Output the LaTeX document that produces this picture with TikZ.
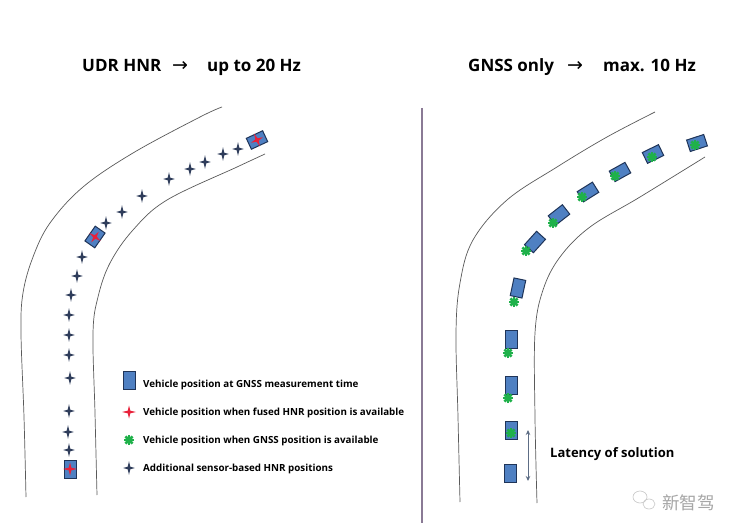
\documentclass[tikz,border=0pt]{standalone}
\usepackage{fontspec}
\setmainfont{Open Sans}
\newfontfamily\arrowfont{DejaVu Sans}
\newfontfamily\cjkfont{Noto Sans CJK SC}
\usetikzlibrary{arrows.meta}
\definecolor{navy}{HTML}{2E3C5A}
\definecolor{vblue}{HTML}{4F80C2}
\definecolor{vedge}{HTML}{1F3458}
\definecolor{fusedred}{HTML}{E8213A}
\definecolor{gnssgreen}{HTML}{1FB14A}
\definecolor{roadgray}{HTML}{5A5A5A}
\definecolor{divider}{HTML}{8A7A95}
\definecolor{latarrow}{HTML}{5D6D85}
\tikzset{
  nstar/.pic={\fill[navy] (0,-6.8) -- (1.3,-1.3) -- (5.8,0) -- (1.3,1.3) -- (0,6.8) -- (-1.3,1.3) -- (-5.8,0) -- (-1.3,-1.3) -- cycle;},
  rstar/.pic={\fill[fusedred] (0,-6.5) -- (1.3,-1.3) -- (7,0) -- (1.3,1.3) -- (0,6.5) -- (-1.3,1.3) -- (-7,0) -- (-1.3,-1.3) -- cycle;},
  gstar/.pic={\foreach \a in {0,45,90,135} \draw[gnssgreen, line width=2.5pt] (\a:5) -- (\a+180:5);},
  veh/.pic={\filldraw[fill=vblue, draw=vedge, line width=1pt] (-6,-9) rectangle (6,9);},
  road/.style={draw=roadgray, line width=0.7pt},
  title/.style={font=\bfseries\fontsize{17}{20}\selectfont, inner sep=0pt, anchor=base west},
  tarrow/.style={font=\arrowfont\fontsize{19}{22}\selectfont, inner sep=0pt, anchor=base},
  legend/.style={font=\bfseries\fontsize{9.8}{12}\selectfont, inner sep=0pt, anchor=base west, text=black},
}
\begin{document}
\begin{tikzpicture}[x=1pt, y=-1pt]
\useasboundingbox (0,0) rectangle (740,532);
\fill[white] (0,0) rectangle (740,532);

% titles
\node[title] (t1) at (82,72) {UDR HNR};
\node[tarrow] (a1) at (180,72) {→};
\node[title] (t2) at (207,72) {up to 20 Hz};
\node[title] (t3) at (468,72) {GNSS only};
\node[tarrow] (a2) at (575,72) {→};
\node[title] (t4) at (603,72) {max. 10 Hz};

% divider
\coordinate (d1) at (422,108);
\coordinate (d2) at (422,523);
\draw[divider, line width=1.5pt] (d1) -- (d2);

% left road
\draw[road] plot[smooth, tension=0.6] coordinates {(26,497) (24,417) (21,333) (23,293) (33,257) (50,223) (83,187) (133,153) (200,117) (222,107)};
\draw[road] plot[smooth, tension=0.6] coordinates {(97,495) (95,413) (93,333) (98,297) (110,263) (133,230) (167,200) (237,167) (265,154)};

% right road
\draw[road] plot[smooth, tension=0.6] coordinates {(460,502) (458,417) (456,333) (460,283) (473,240) (507,200) (557,167) (607,137) (655,112)};
\draw[road] plot[smooth, tension=0.6] coordinates {(537,503) (535,417) (535,333) (543,290) (560,257) (590,227) (640,197) (705,157)};

% left markers
\foreach \p in {(69,450),(68,432),(69,411),(70,378),(69,355),(69,335),(69,315),(71,295),(77,276),(82,257),(106,223),(122,212),(142,196),(169,179),(190,169),(205,162),(223,154),(238,149)}
  \pic at \p {nstar};
\pic at (70,469) {veh};
\pic at (70,469) {rstar};
\pic[rotate=-35] at (95,237) {veh};
\pic[rotate=-35] at (95,237) {rstar};
\pic[rotate=-65] at (257,140) {veh};
\pic[rotate=-65] at (257,140) {rstar};

% right markers
\pic at (510,473) {veh};
\pic at (511,430) {veh};
\pic at (511,433) {gstar};
\pic at (511,385) {veh};
\pic at (508,398) {gstar};
\pic at (511,339) {veh};
\pic at (508,353) {gstar};
\pic[rotate=-12] at (518,288) {veh};
\pic at (514,302) {gstar};
\pic[rotate=-42] at (535,242) {veh};
\pic at (526,251) {gstar};
\pic[rotate=-52] at (559,215) {veh};
\pic at (553,223) {gstar};
\pic[rotate=-58] at (588,192) {veh};
\pic at (582,197) {gstar};
\pic[rotate=-61] at (620,172) {veh};
\pic at (615,176) {gstar};
\pic[rotate=-64] at (653,154) {veh};
\pic at (652,157) {gstar};
\pic[rotate=-72] at (697,143) {veh};
\pic at (695,145) {gstar};

% latency
\coordinate (l1) at (528,430);
\coordinate (l2) at (528,481);
\draw[latarrow, line width=1pt, {Stealth[length=5pt,width=4.5pt]}-{Stealth[length=5pt,width=4.5pt]}] (l1) -- (l2);
\node[font=\bfseries\fontsize{13}{15}\selectfont, inner sep=0pt, anchor=base west] (lat) at (550,457) {Latency of solution};

% legend
\pic at (129,380) {veh};
\node[legend] (g1) at (143,387) {Vehicle position at GNSS measurement time};
\pic at (129,412) {rstar};
\node[legend] (g2) at (143,415) {Vehicle position when fused HNR position is available};
\pic at (129,440) {gstar};
\node[legend] (g3) at (143,443) {Vehicle position when GNSS position is available};
\pic at (129,468) {nstar};
\node[legend] (g4) at (143,471) {Additional sensor-based HNR positions};

% watermark
\draw[gray!45, line width=0.6pt] (640,497) ellipse (7 and 6);
\draw[gray!45, line width=0.6pt] (649,504) ellipse (6 and 5);
\node[font=\cjkfont\fontsize{17.5}{19}\selectfont, text=gray!70, inner sep=0pt, anchor=base west] (wm) at (662,509) {新智驾};
\end{tikzpicture}
\end{document}
